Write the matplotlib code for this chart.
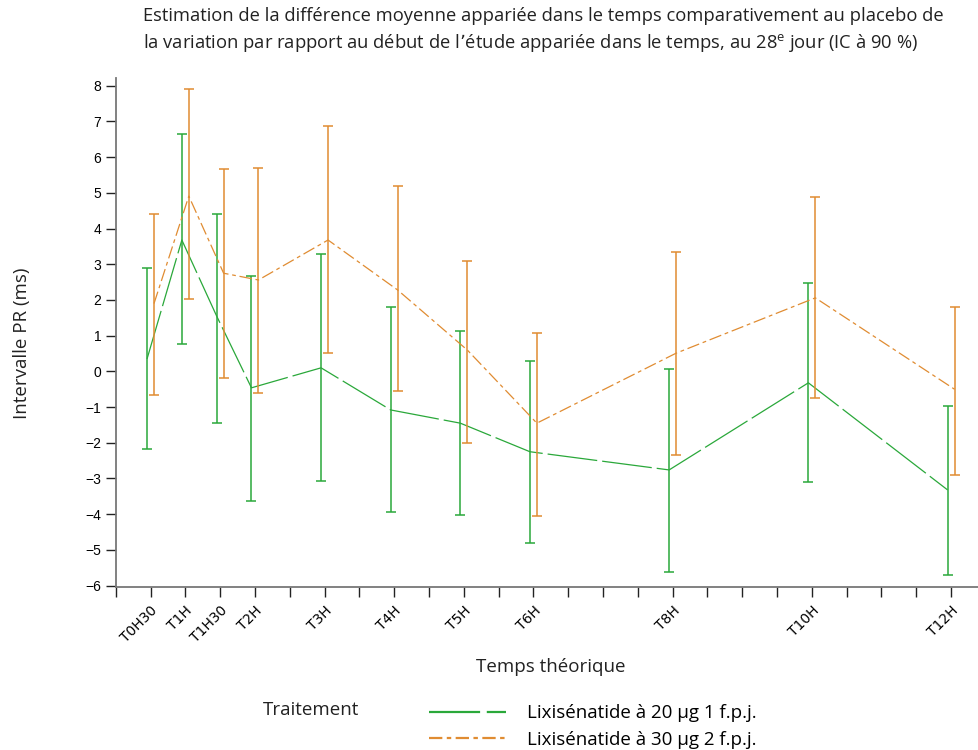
import numpy as np
import matplotlib
matplotlib.use('Agg')
import matplotlib.pyplot as plt
from matplotlib.lines import Line2D

# temps théoriques (h) et libellés
times = [0.5, 1, 1.5, 2, 3, 4, 5, 6, 8, 10, 12]
labels = ['T0H30', 'T1H', 'T1H30', 'T2H', 'T3H', 'T4H', 'T5H', 'T6H', 'T8H', 'T10H', 'T12H']

# Lixisénatide 20 µg 1 f.p.j.
g_mean = [0.35, 3.68, 1.55, -0.46, 0.10, -1.08, -1.45, -2.25, -2.76, -0.32, -3.32]
g_low = [-2.17, 0.76, -1.45, -3.62, -3.06, -3.95, -4.01, -4.81, -5.63, -3.11, -5.69]
g_high = [2.89, 6.64, 4.40, 2.68, 3.29, 1.80, 1.12, 0.30, 0.07, 2.49, -0.96]

# Lixisénatide 30 µg 2 f.p.j.
o_mean = [1.9, 4.91, 2.75, 2.56, 3.68, 2.28, 0.60, -1.45, 0.51, 2.06, -0.50]
o_low = [-0.65, 2.02, -0.19, -0.61, 0.52, -0.55, -2.01, -4.04, -2.35, -0.74, -2.91]
o_high = [4.41, 7.9, 5.66, 5.70, 6.87, 5.19, 3.10, 1.08, 3.35, 4.88, 1.81]

green = '#2aa83a'
orange = '#e08c32'
off = 0.05

plt.rcParams['font.family'] = ['Open Sans', 'DejaVu Sans']

fig = plt.figure(figsize=(9.79, 7.5), dpi=100)
ax = fig.add_axes([0.1182, 0.2173, 0.881, 0.6783])

t = np.array(times)
for mean, low, high, col, dx, ls in [
        (g_mean, g_low, g_high, green, -off, (0, (40, 4))),
        (o_mean, o_low, o_high, orange, off, (0, (10, 3, 3, 3)))]:
    mean = np.array(mean)
    err = [mean - np.array(low), np.array(high) - mean]
    ax.errorbar(t + dx, mean, yerr=err, color=col, lw=0.9, elinewidth=1.1,
                capsize=3.3, capthick=1.1, linestyle='none')
    ax.plot(t + dx, mean, color=col, lw=0.9, linestyle=ls)

ax.set_xlim(0, 12.39)
ax.set_ylim(-6.04, 8.21)
ax.set_yticks(range(-6, 9))
ax.set_xticks(np.arange(0, 12.01, 0.5))
xt = ['' for _ in np.arange(0, 12.01, 0.5)]
for tt, lab in zip(times, labels):
    xt[int(round(tt * 2))] = lab
ax.set_xticklabels(xt, rotation=45, ha='right', rotation_mode='anchor',
                   fontsize=10, family=['DejaVu Sans'])
for lab in ax.get_yticklabels():
    lab.set_family(['Liberation Sans'])
    lab.set_fontsize(10)
ax.tick_params(direction='out', length=7, width=1, color='#222222')
ax.tick_params(axis='x', pad=5)
for s in ['top', 'right']:
    ax.spines[s].set_visible(False)
for s in ['left', 'bottom']:
    ax.spines[s].set_color('#777777')
    ax.spines[s].set_linewidth(1.3)

fig.text(143 / 979, 1 - 7 / 750,
         "Estimation de la différence moyenne appariée dans le temps comparativement au placebo de\n"
         "la variation par rapport au début de l’étude appariée dans le temps, au 28$^{\\mathregular{e}}$ jour (IC à 90 %)",
         ha='left', va='top', fontsize=13.2, linespacing=1.45, color='#222222')
fig.text(22 / 979, 1 - 343 / 750, 'Intervalle PR (ms)', rotation=90,
         ha='center', va='center', fontsize=13.5, color='#222222')
fig.text(551 / 979, 1 - 667 / 750, 'Temps théorique', ha='center', va='center',
         fontsize=13.5, color='#222222')
fig.text(263 / 979, 1 - 710 / 750, 'Traitement', ha='left', va='center',
         fontsize=13.5, color='#222222')

handles = [Line2D([], [], color=green, lw=1.6, linestyle=(0, (23, 3))),
           Line2D([], [], color=orange, lw=1.6, linestyle=(0, (6, 2, 2, 2)))]
fig.legend(handles, ['Lixisénatide à 20 µg 1 f.p.j.', 'Lixisénatide à 30 µg 2 f.p.j.'],
           loc='upper left', bbox_to_anchor=(422 / 979, 1 - 697 / 750),
           frameon=False, fontsize=13.5, handlelength=4.1, handletextpad=1.1,
           labelspacing=0.45, borderaxespad=0)

fig.savefig('out.png', dpi=100)
